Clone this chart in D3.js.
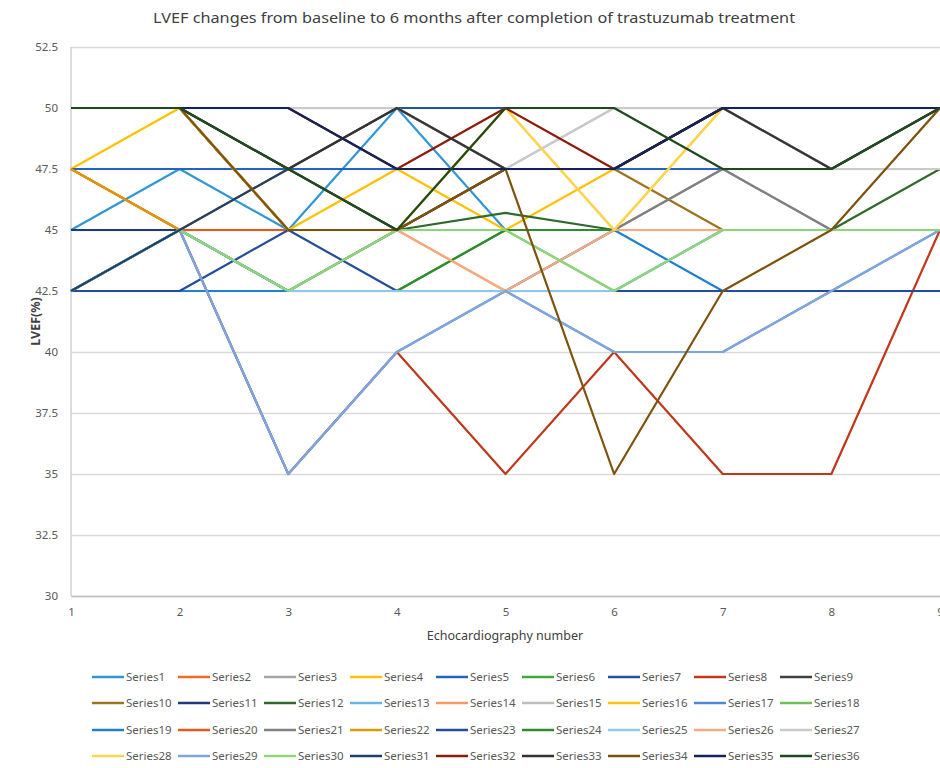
<!DOCTYPE html>
<html>
<head>
<meta charset="utf-8">
<script src="https://cdn.jsdelivr.net/npm/d3@7"></script>
<style>
  html, body { margin: 0; padding: 0; background: #ffffff; }
  svg { display: block; }
</style>
</head>
<body>
<div id="chart"></div>
<script>
// ---- Data ----
const categories = [1, 2, 3, 4, 5, 6, 7, 8, 9];
const yTicks = [30, 32.5, 35, 37.5, 40, 42.5, 45, 47.5, 50, 52.5];
const title = "LVEF changes from baseline to 6 months after completion of trastuzumab treatment";
const xTitle = "Echocardiography number";
const yTitle = "LVEF(%)";

const s1  = [45, 47.5, 45, 50, 45, 45, 45, 45, 45];
const s2  = [47.5, 45, 45, 45, 45, 45, 45, 45, 45];
const s3  = [50, 50, 45, 45, 45, 45, 47.5, 45, 45];
const s4  = [47.5, 50, 45, 47.5, 45, 47.5, 47.5, 47.5, 47.5];
const s5  = [47.5, 47.5, 47.5, 47.5, 47.5, 47.5, 47.5, 47.5, 47.5];
const s6  = [42.5, 45, 42.5, 42.5, 45, 45, 45, 45, 45];
const s7  = [50, 50, 50, 50, 50, 50, 50, 50, 50];
const s8  = [45, 45, 35, 40, 35, 40, 35, 35, 45];
const s9  = [50, 50, 47.5, 50, 47.5, 47.5, 50, 47.5, 50];
const s10 = [50, 50, 45, 45, 47.5, 47.5, 45, 45, 45];
const s11 = [45, 45, 42.5, 45, 45, 45, 45, 45, 45];
const s12 = [50, 50, 45, 45, 45.7, 45, 45, 45, 47.5];
const s13 = [42.5, 45, 42.5, 42.5, 42.5, 42.5, 45, 45, 45];
const s14 = [50, 50, 45, 45, 42.5, 45, 45, 45, 45];
const s15 = [50, 50, 50, 50, 47.5, 50, 50, 47.5, 47.5];
const s16 = [50, 50, 45, 45, 50, 45, 50, 50, 50];
const s17 = [42.5, 45, 35, 40, 42.5, 40, 40, 42.5, 45];
const s18 = [42.5, 45, 42.5, 45, 45, 42.5, 45, 45, 45];
const s19 = [42.5, 42.5, 42.5, 42.5, 42.5, 45, 42.5, 42.5, 42.5];
const s20 = [47.5, 45, 45, 45, 45, 45, 45, 45, 45];
const s21 = [50, 50, 45, 45, 45, 45, 47.5, 45, 45];
const s22 = [47.5, 45, 47.5, 45, 47.5, 47.5, 50, 50, 50];
const s23 = [42.5, 42.5, 45, 42.5, 42.5, 42.5, 42.5, 42.5, 42.5];
const s24 = [42.5, 45, 42.5, 42.5, 45, 45, 45, 45, 45];
const s25 = [42.5, 45, 42.5, 42.5, 42.5, 42.5, 45, 45, 45];
const s26 = [50, 50, 45, 45, 42.5, 45, 45, 45, 45];
const s27 = [50, 50, 50, 50, 47.5, 50, 50, 47.5, 47.5];
const s28 = [50, 50, 45, 45, 50, 45, 50, 50, 50];
const s29 = [42.5, 45, 35, 40, 42.5, 40, 40, 42.5, 45];
const s30 = [42.5, 45, 42.5, 45, 45, 42.5, 45, 45, 45];
const s31 = [42.5, 45, 47.5, 45, 47.5, 47.5, 50, 50, 50];
const s32 = [50, 50, 50, 47.5, 50, 47.5, 50, 50, 50];
const s33 = [50, 50, 47.5, 50, 47.5, 47.5, 50, 47.5, 50];
const s34 = [50, 50, 45, 45, 47.5, 35, 42.5, 45, 50];
const s35 = [50, 50, 50, 47.5, 47.5, 47.5, 50, 50, 50];
const s36 = [50, 50, 47.5, 45, 50, 50, 47.5, 47.5, 50];

const seriesValues = [s1, s2, s3, s4, s5, s6, s7, s8, s9, s10, s11, s12, s13, s14, s15, s16, s17, s18,
  s19, s20, s21, s22, s23, s24, s25, s26, s27, s28, s29, s30, s31, s32, s33, s34, s35, s36];
const seriesNames = seriesValues.map((_, i) => "Series" + (i + 1));

const colors = [
  "#2F96D8", "#F26B21", "#A5A5A5", "#FFC000", "#2464C0", "#3DAA3D", "#1F5899", "#C0381A", "#404040",
  "#9C7420", "#1F3A7A", "#2F6A2A", "#6BB5E6", "#F59A62", "#BDBDBD", "#FFC20E", "#4D88D8", "#6CC05A",
  "#2080CC", "#E8581C", "#808080", "#DA9A0A", "#244C9C", "#2E8B2E", "#8CC8EE", "#F7AA80", "#CACACA",
  "#FFD54F", "#7FA5DC", "#8ED47A", "#1F3F6E", "#8B1C0C", "#333333", "#7D520C", "#13235A", "#1E4A1E"
];

// ---- Layout ----
const W = 940, H = 768;
const plot = { left: 71, right: 940, top: 47, bottom: 596 };
const font = "'Noto Sans', 'Open Sans', sans-serif";

const svg = d3.select("#chart").append("svg")
  .attr("width", W).attr("height", H)
  .style("font-family", font);

const x = d3.scaleLinear().domain([1, 9]).range([plot.left, plot.right]);
const y = d3.scaleLinear().domain([30, 52.5]).range([plot.bottom, plot.top]);

// Title
svg.append("text")
  .attr("x", 474).attr("y", 23)
  .attr("text-anchor", "middle")
  .attr("font-size", 14)
  .attr("fill", "#404040")
  .attr("textLength", 642)
  .attr("lengthAdjust", "spacingAndGlyphs")
  .text(title);

// Gridlines
const yAxisGrid = d3.axisLeft(y).tickValues(yTicks).tickSize(-(plot.right - plot.left)).tickFormat("");
svg.append("g")
  .attr("transform", `translate(${plot.left},0)`)
  .call(yAxisGrid)
  .call(g => g.select(".domain").remove())
  .call(g => g.selectAll("line").attr("stroke", "#D9D9D9").attr("stroke-width", 1.5));

// Y tick labels
const yAxis = d3.axisLeft(y).tickValues(yTicks).tickSize(0).tickPadding(13)
  .tickFormat(d => String(d));
svg.append("g")
  .attr("transform", `translate(${plot.left},0)`)
  .call(yAxis)
  .call(g => g.select(".domain").remove())
  .call(g => g.selectAll("text")
    .attr("font-size", 11.5).attr("fill", "#595959").style("font-family", font));

// Left vertical axis line
svg.append("line")
  .attr("x1", plot.left).attr("x2", plot.left)
  .attr("y1", plot.top).attr("y2", plot.bottom)
  .attr("stroke", "#D0D0D0").attr("stroke-width", 1.5);

// X axis
const xAxis = d3.axisBottom(x).tickValues(categories).tickSize(0).tickPadding(12)
  .tickFormat(d => String(d));
svg.append("g")
  .attr("transform", `translate(0,${plot.bottom})`)
  .call(xAxis)
  .call(g => g.select(".domain").attr("stroke", "#BFBFBF").attr("stroke-width", 1.5))
  .call(g => g.selectAll("text")
    .attr("font-size", 11.5).attr("fill", "#595959").style("font-family", font));

// Axis titles
svg.append("text")
  .attr("x", 505).attr("y", 640)
  .attr("text-anchor", "middle")
  .attr("font-size", 12.5)
  .attr("fill", "#404040")
  .text(xTitle);

svg.append("text")
  .attr("transform", `translate(40,${(plot.top + plot.bottom) / 2}) rotate(-90)`)
  .attr("text-anchor", "middle")
  .attr("font-size", 12.5)
  .attr("font-weight", "bold")
  .attr("fill", "#404040")
  .text(yTitle);

// Lines
const line = d3.line()
  .x((d, i) => x(categories[i]))
  .y(d => y(d));

const linesG = svg.append("g");
seriesValues.forEach((vals, i) => {
  linesG.append("path")
    .datum(vals)
    .attr("d", line)
    .attr("fill", "none")
    .attr("stroke", colors[i])
    .attr("stroke-width", 2.2)
    .attr("stroke-linejoin", "round");
});

// Legend
const legendCols = 9;
const legendX0 = 92, legendDX = 86;
const legendY = [677, 703, 730, 756];
const legend = svg.append("g");
seriesNames.forEach((name, i) => {
  const col = i % legendCols, row = Math.floor(i / legendCols);
  const gx = legendX0 + col * legendDX, gy = legendY[row];
  legend.append("line")
    .attr("x1", gx).attr("x2", gx + 32)
    .attr("y1", gy).attr("y2", gy)
    .attr("stroke", colors[i]).attr("stroke-width", 2.5);
  legend.append("text")
    .attr("x", gx + 34).attr("y", gy + 4)
    .attr("font-size", 11.5)
    .attr("fill", "#595959")
    .text(name);
});
</script>
</body>
</html>
